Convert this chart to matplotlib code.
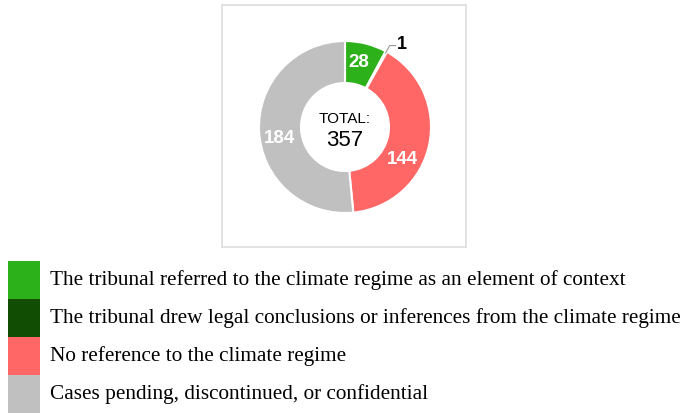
import numpy as np
import matplotlib.pyplot as plt
from matplotlib.patches import Rectangle

labels = [
    "The tribunal referred to the climate regime as an element of context",
    "The tribunal drew legal conclusions or inferences from the climate regime",
    "No reference to the climate regime",
    "Cases pending, discontinued, or confidential",
]
values = [28, 1, 144, 184]
colors = ["#2db11b", "#114d02", "#ff6666", "#c0c0c0"]
# small angular nudges for slice labels (degrees, clockwise)
label_shift = [-2, 0, 18, -7]
total = sum(values)

W, H = 682, 413
fig = plt.figure(figsize=(W / 100, H / 100), dpi=100)

# frame around the chart
fig.patches.append(Rectangle((222 / W, 1 - 247 / H), 244 / W, 242 / H,
                             transform=fig.transFigure, fill=False,
                             edgecolor="#dddddd", linewidth=1.2))

# donut
cx, cy, r = 345, 127, 86
ax = fig.add_axes([(cx - r) / W, 1 - (cy + r) / H, 2 * r / W, 2 * r / H])
hole = 44 / 86
ax.pie(values, colors=colors, startangle=90, counterclock=False, radius=1,
       wedgeprops=dict(width=1 - hole, edgecolor="white", linewidth=1.5))
ax.set_xlim(-1, 1)
ax.set_ylim(-1, 1)
ax.set_aspect("equal")
ax.axis("off")

ax.text(0, 0.09, "TOTAL:", ha="center", va="center", fontsize=11,
        family="Liberation Sans")
ax.text(0, -0.16, str(total), ha="center", va="center", fontsize=16,
        family="Liberation Sans")

# slice labels
rmid = 0.77
cum = 0
for i, v in enumerate(values):
    mid = (cum + v / 2) / total
    cum += v
    if v / total < 0.02:
        # tiny slice: label outside with leader line
        ang = np.deg2rad(90 - 360 * mid)
        x0, y0 = 0.98 * np.cos(ang), 0.98 * np.sin(ang)
        x1, y1 = 1.08 * np.cos(ang), 1.08 * np.sin(ang)
        ax.plot([x0, x1, x1 + 0.07], [y0, y1, y1], color="#999999", lw=0.8,
                clip_on=False)
        ax.text(x1 + 0.08, y1 + 0.01, str(v), ha="left", va="center",
                fontsize=13, fontweight="bold", family="Liberation Sans",
                color="black")
    else:
        ang = np.deg2rad(90 - 360 * mid - label_shift[i])
        ax.text(rmid * np.cos(ang), rmid * np.sin(ang), str(v),
                ha="center", va="center", fontsize=13.5, fontweight="bold",
                family="Liberation Sans", color="white")

# legend
top, row = 261, 38
for i, (lab, c) in enumerate(zip(labels, colors)):
    y = top + i * row
    fig.patches.append(Rectangle((8 / W, 1 - (y + row) / H), 32 / W, row / H,
                                 transform=fig.transFigure, facecolor=c,
                                 edgecolor="none"))
    fig.text(50 / W, 1 - (y + row / 2) / H, lab, ha="left", va="center",
             fontsize=15.3, family="Liberation Serif")

fig.savefig("out.png", dpi=100)
